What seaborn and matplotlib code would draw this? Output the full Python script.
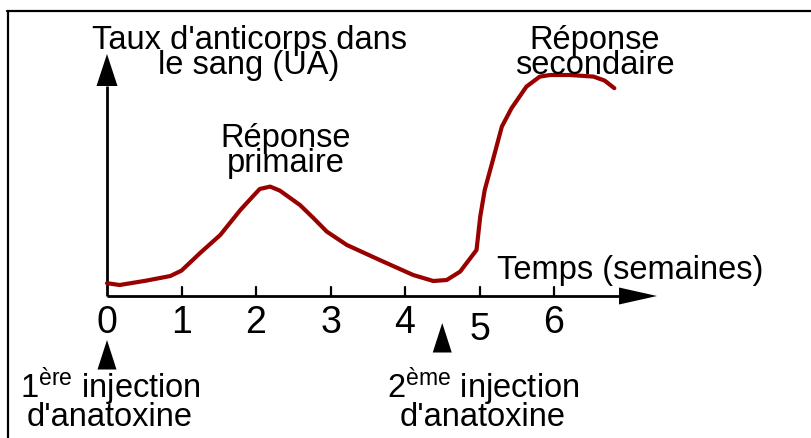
import matplotlib
matplotlib.use("Agg")
import matplotlib.pyplot as plt
import seaborn as sns
import pandas as pd

# Antibody titre over time (weeks, arbitrary units)
weeks = [0.0, 0.17, 0.53, 0.85, 1.0, 1.25, 1.52, 1.79, 1.95, 2.05, 2.19, 2.32, 2.59, 2.77,
         2.95, 3.22, 3.66, 4.11, 4.38, 4.56, 4.74, 4.96, 5.01, 5.07, 5.18, 5.30,
         5.43, 5.63, 5.81, 5.95, 6.21, 6.53, 6.68, 6.81]
titre = [0.64, 0.55, 0.77, 1.0, 1.27, 2.15, 3.05, 4.3, 4.95, 5.35, 5.47, 5.27, 4.55, 3.9,
         3.22, 2.55, 1.8, 1.05, 0.75, 0.8, 1.22, 2.3, 3.97, 5.3, 6.8, 8.47,
         9.39, 10.47, 10.97, 11.05, 11.05, 10.97, 10.77, 10.39]

tick_weeks = [0, 1, 2, 3, 4, 5, 6]
tick_labels = ["0", "1", "2", "3", "4", "5", "6"]
injection_weeks = [0.0, 4.5]

df = pd.DataFrame({"semaine": weeks, "taux": titre})

sns.set_theme(style="white")
plt.rcParams["font.family"] = ["Liberation Sans", "DejaVu Sans"]
plt.rcParams["text.color"] = "black"
plt.rcParams["mathtext.fontset"] = "custom"
plt.rcParams["mathtext.rm"] = "Liberation Sans"
plt.rcParams["mathtext.it"] = "Liberation Sans"

W, H = 811, 438
fig = plt.figure(figsize=(W / 100, H / 100), dpi=100)
fig.patch.set_facecolor("white")
ax = fig.add_axes([0, 0, 1, 1])

# pixel scale of the drawing: origin and units
X0, PXW = 107, 74.5
Y0, PXU = 296, 20.0


def fx(px):
    return px / W


def fy(py):
    return 1 - py / H


# frame lines (top and left)
fig.add_artist(plt.Line2D([fx(7), 1], [fy(11), fy(11)], color="black", lw=1.6))
fig.add_artist(plt.Line2D([fx(8), fx(8)], [fy(11), 0], color="black", lw=1.6))

ink = "black"
# x axis with arrow head
x_head0, x_tip = (619 - X0) / PXW, (657 - X0) / PXW
ax.plot([0, x_head0], [0, 0], color=ink, lw=2.0, solid_capstyle="butt")
ax.fill([x_head0, x_tip, x_head0], [8.5 / PXU, 0, -8.5 / PXU], color=ink, lw=0)
# y axis with arrow head
y_head0, y_tip = (Y0 - 86) / PXU, (Y0 - 54) / PXU
ax.plot([0, 0], [0, y_head0], color=ink, lw=2.0, solid_capstyle="butt")
ax.fill([-10.5 / PXW, 0, 10.5 / PXW], [y_head0, y_tip, y_head0], color=ink, lw=0)

# ticks and their labels
for w, lab in zip(tick_weeks, tick_labels):
    if w > 0:
        ax.plot([w, w], [0, 9 / PXU], color=ink, lw=1.6)
    base = 333 + (7 if lab == "5" else 0)
    ax.text(w, (Y0 - base) / PXU, lab, ha="center", va="baseline",
            fontsize=27, color=ink)

# antibody curve
sns.lineplot(data=df, x="semaine", y="taux", sort=False, ax=ax,
             color="#990000", lw=3.0, solid_capstyle="round",
             solid_joinstyle="round")
ax.set_xlim(-X0 / PXW, (W - X0) / PXW)
ax.set_ylim(-(H - Y0) / PXU, Y0 / PXU)
ax.axis("off")

# injection markers
tops = [340, 323]
for w, top in zip(injection_weeks, tops):
    half = 9.5 / PXW
    yt = (Y0 - top) / PXU
    yb = (Y0 - top - 29.5) / PXU
    ax.fill([w - half, w, w + half], [yb, yt, yb], color=ink, lw=0)

fs = 23.5
ls = 0.74
kw = dict(ha="center", va="baseline", multialignment="center",
          fontsize=fs, linespacing=ls)

# axis titles (baseline given for the last line)
fig.text(fx(249), fy(74), "Taux d'anticorps dans\nle sang (UA)", **kw)
fig.text(fx(630), fy(279), "Temps (semaines)", **kw)

# response labels
fig.text(fx(286), fy(172), "Réponse\nprimaire", **kw)
fig.text(fx(595), fy(74), "Réponse\nsecondaire", **kw)

# injection labels
fig.text(fx(110), fy(426), "1$^{\\mathrm{ère}}$ injection\nd'anatoxine", **kw)
fig.text(fx(483), fy(426), "2$^{\\mathrm{ème}}$ injection\nd'anatoxine", **kw)

fig.savefig("out.png", dpi=100, facecolor="white")
